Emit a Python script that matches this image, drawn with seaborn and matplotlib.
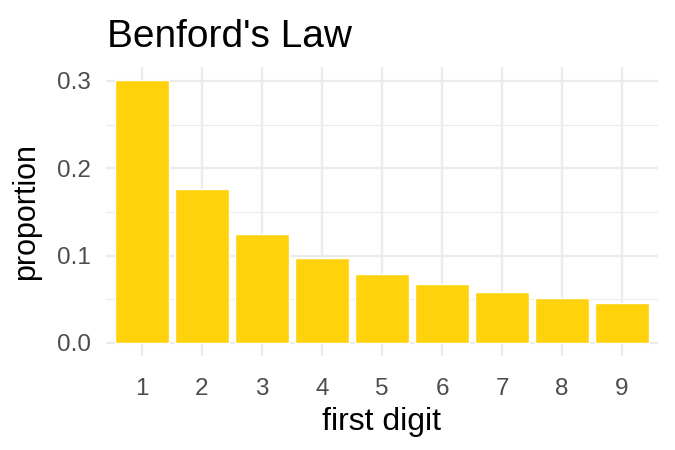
import matplotlib
matplotlib.use("Agg")
import matplotlib.pyplot as plt
import seaborn as sns
import pandas as pd
from matplotlib.ticker import FixedLocator

digits = ["1", "2", "3", "4", "5", "6", "7", "8", "9"]
proportion = [0.301, 0.176, 0.125, 0.097, 0.079, 0.067, 0.058, 0.051, 0.046]
title = "Benford's Law"
xlabel = "first digit"
ylabel = "proportion"

df = pd.DataFrame({"digit": digits, "proportion": proportion})

sns.set_theme(style="whitegrid")
plt.rcParams["font.family"] = ["Liberation Sans", "DejaVu Sans"]

fig = plt.figure(figsize=(6.75, 4.5), dpi=100)
ax = fig.add_axes([106 / 675, 1 - 356 / 450, (658 - 106) / 675, (356 - 67) / 450])

sns.barplot(data=df, x="digit", y="proportion", color="#FFD20C", width=0.9,
            saturation=1, ax=ax, zorder=3)

ax.set_xlim(-0.6, 8.6)
ax.set_ylim(-0.015, 0.316)
ax.yaxis.set_major_locator(FixedLocator([0.0, 0.1, 0.2, 0.3]))
ax.yaxis.set_minor_locator(FixedLocator([0.05, 0.15, 0.25]))
ax.set_yticklabels(["0.0", "0.1", "0.2", "0.3"])

ax.set_axisbelow(True)
ax.grid(False)
ax.yaxis.grid(True, which="major", color="#EBEBEB", linewidth=1.6)
ax.yaxis.grid(True, which="minor", color="#EBEBEB", linewidth=0.8)
ax.xaxis.grid(True, which="major", color="#EBEBEB", linewidth=1.6)
for s in ax.spines.values():
    s.set_visible(False)
ax.set_facecolor("white")

ax.tick_params(axis="both", which="both", length=0, labelsize=17.5, colors="#4D4D4D")
ax.tick_params(axis="y", pad=11)
ax.tick_params(axis="x", pad=16)
ax.set_xlabel(xlabel, fontsize=23, color="black", labelpad=5)
ax.set_ylabel(ylabel, fontsize=22, color="black", labelpad=11)
fig.text(107 / 675, 1 - 47 / 450, title, fontsize=28, color="black", ha="left", va="baseline")

fig.savefig("out.png", dpi=100, facecolor="white")
